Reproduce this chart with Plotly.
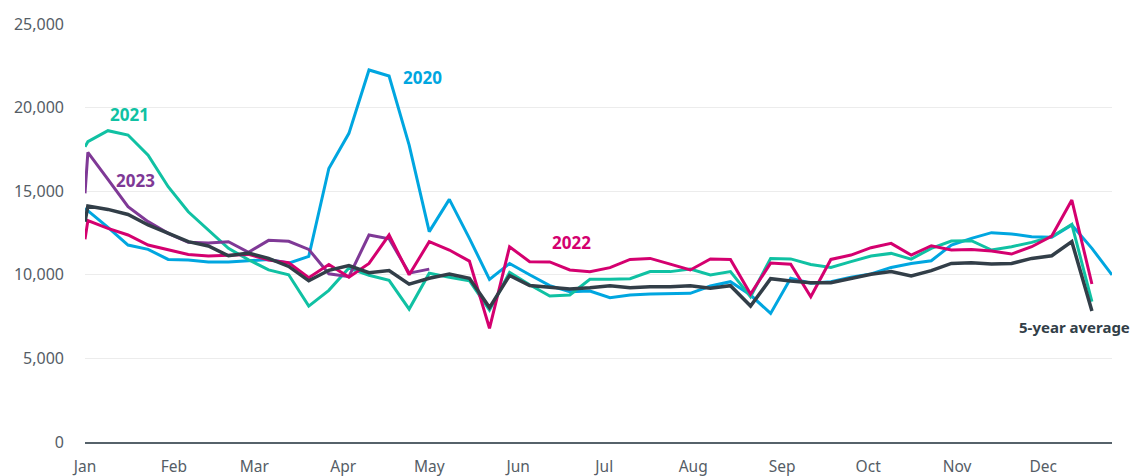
import plotly.graph_objects as go
import pandas as pd

# Week dates (first point is Jan 1, then weekly from Jan 2)
week_dates = ["2021-01-01"] + [d.strftime("%Y-%m-%d") for d in pd.date_range("2021-01-02", periods=52, freq="7D")]

month_ticks = ["2021-%02d-01" % m for m in range(1, 13)]
month_labels = ["Jan", "Feb", "Mar", "Apr", "May", "Jun", "Jul", "Aug", "Sep", "Oct", "Nov", "Dec"]

y_ticks = [0, 5000, 10000, 15000, 20000, 25000]

y2020 = [13970, 13830, 12840, 11780, 11520, 10920, 10880, 10760, 10760, 10840,
         10920, 10700, 11100, 16360, 18460, 22250, 21890, 17760, 12580, 14510,
         12180, 9730, 10680, 10000, 9350, 8990, 9030, 8630, 8790, 8850,
         8890, 8890, 9330, 9590, 8790, 7690, 9790, 9490, 9590, 9850,
         10050, 10440, 10680, 10840, 11780, 12180, 12520, 12440, 12280, 12240,
         12980, 11580, 9990]

y2021 = [17660, 17960, 18620, 18360, 17160, 15270, 13770, 12680, 11580, 10900,
         10290, 10000, 8130, 9070, 10400, 9970, 9670, 7950, 10090, 9850,
         9650, 7890, 10150, 9400, 8730, 8790, 9730, 9730, 9770, 10190,
         10190, 10350, 9990, 10190, 8690, 10980, 10950, 10620, 10440, 10790,
         11120, 11280, 10940, 11580, 12020, 12040, 11480, 11680, 11940, 12280,
         13020, 8390]

y2022 = [12120, 13240, 12780, 12380, 11780, 11480, 11220, 11120, 11180, 11220,
         10880, 10720, 9830, 10620, 9860, 10680, 12380, 10000, 11980, 11480,
         10820, 6800, 11680, 10780, 10770, 10290, 10190, 10430, 10920, 10980,
         10640, 10290, 10950, 10920, 8850, 10700, 10630, 8690, 10920, 11180,
         11620, 11880, 11180, 11740, 11480, 11520, 11420, 11240, 11680, 12320,
         14470, 9450]

y2023 = [14870, 17320, 15710, 14070, 13180, 12480, 11940, 11900, 11980, 11350,
         12060, 12000, 11520, 10060, 9890, 12380, 12150, 10100, 10340]

y_avg = [13180, 14110, 13910, 13610, 12980, 12480, 11980, 11720, 11140, 11300,
         10980, 10500, 9640, 10270, 10550, 10130, 10250, 9440, 9790, 10050,
         9790, 8040, 9960, 9360, 9240, 9150, 9230, 9350, 9230, 9290,
         9290, 9350, 9190, 9350, 8130, 9770, 9630, 9530, 9530, 9790,
         10030, 10190, 9930, 10250, 10680, 10720, 10640, 10680, 10980, 11140,
         11980, 7830]

C2020 = "#00a6e0"
C2021 = "#10c1a3"
C2022 = "#d4006f"
C2023 = "#7f3996"
CAVG = "#323e48"

FONT = "Noto Sans"

fig = go.Figure()
series = [
    ("2020", y2020, C2020, 3),
    ("2021", y2021, C2021, 3),
    ("2023", y2023, C2023, 3),
    ("2022", y2022, C2022, 3),
    ("5-year average", y_avg, CAVG, 3.5),
]
for name, ys, col, w in series:
    fig.add_trace(go.Scatter(
        x=week_dates[:len(ys)], y=ys, mode="lines", name=name,
        line=dict(color=col, width=w, shape="linear"),
        hoverinfo="skip",
    ))

labels = [
    ("2020", "2021-04-21", 21830, C2020, 17),
    ("2021", "2021-01-09", 19610, C2021, 17),
    ("2023", "2021-01-11", 15670, C2023, 17),
    ("2022", "2021-06-12", 11960, C2022, 17),
    ("5-year average", "2021-11-22", 6880, CAVG, 15),
]
for txt, xd, yv, col, fs in labels:
    fig.add_annotation(x=xd, y=yv, text="<b>%s</b>" % txt, showarrow=False,
                       xanchor="left", yanchor="middle",
                       font=dict(family=FONT, size=fs, color=col))

fig.update_layout(
    width=1138, height=476,
    margin=dict(l=85, r=26, t=24, b=34, autoexpand=False),
    paper_bgcolor="white", plot_bgcolor="white",
    showlegend=False,
    font=dict(family=FONT, size=16, color="#555d66"),
    xaxis=dict(
        type="date",
        range=[week_dates[0], week_dates[-1]],
        tickvals=month_ticks, ticktext=month_labels,
        showgrid=False, zeroline=False,
        showline=True, linecolor="#56626a", linewidth=1.6,
        ticks="", ticklabelstandoff=10, automargin=False,
        tickfont=dict(family=FONT, size=15.5, color="#555d66"),
    ),
    yaxis=dict(
        range=[0, 25000],
        tickvals=y_ticks, tickformat=",",
        showgrid=True, gridcolor="#ececec", gridwidth=1.2,
        zeroline=False, showline=False,
        ticks="", ticklabelstandoff=20, automargin=False,
        tickfont=dict(family=FONT, size=16, color="#555d66"),
    ),
)

fig.write_html("out.html", config={"displayModeBar": False},
               post_script="document.body.style.margin='0';document.body.style.overflow='hidden';")
